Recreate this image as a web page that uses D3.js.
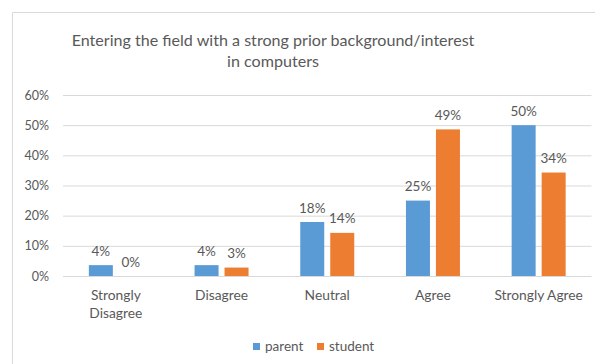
<!DOCTYPE html>
<html>
<head>
<meta charset="utf-8">
<script src="https://cdn.jsdelivr.net/npm/d3@7"></script>
<style>
  html, body { margin: 0; padding: 0; background: #fff; }
  svg { display: block; font-family: Lato, "Open Sans", sans-serif; }
</style>
</head>
<body>
<svg id="chart" width="595" height="364"></svg>
<script>
// Survey responses: share of parents and students per answer
const categories = ["Strongly Disagree", "Disagree", "Neutral", "Agree", "Strongly Agree"];
const categoryLines = [["Strongly", "Disagree"], ["Disagree"], ["Neutral"], ["Agree"], ["Strongly Agree"]];
const seriesNames = ["parent", "student"];
const parentValues = [0.036, 0.036, 0.179, 0.25, 0.50];
const studentValues = [0.0, 0.028, 0.143, 0.486, 0.343];
const yTicks = [0, 0.1, 0.2, 0.3, 0.4, 0.5, 0.6];
const titleLines = ["Entering the field with a strong prior background/interest", "in computers"];

const colors = { parent: "#5B9BD5", student: "#ED7D31" };
const textColor = "#595959";
const gridColor = "#D9D9D9";

const svg = d3.select("#chart");

// chart frame (only top and left edges fall inside the view)
svg.append("path")
  .attr("d", "M12.5,364 V12.5 H595")
  .attr("fill", "none")
  .attr("stroke", gridColor)
  .attr("stroke-width", 1);

const plot = { left: 63, right: 591.5, top: 95, bottom: 276 };

const x = d3.scaleBand()
  .domain(categories)
  .range([plot.left, plot.right])
  .paddingInner(0)
  .paddingOuter(0);

const xInner = d3.scaleBand()
  .domain(seriesNames)
  .range([0, 54])
  .paddingInner(0.2);

const y = d3.scaleLinear()
  .domain([0, 0.6])
  .range([plot.bottom, plot.top]);

// gridlines + y axis labels
const yAxis = d3.axisLeft(y)
  .tickValues(yTicks)
  .tickFormat(d3.format(".0%"))
  .tickSize(-(plot.right - plot.left))
  .tickPadding(14);

const gy = svg.append("g")
  .attr("transform", `translate(${plot.left},0)`)
  .call(yAxis);
gy.select(".domain").remove();
gy.selectAll(".tick line").attr("stroke", gridColor).attr("stroke-width", 1);
gy.selectAll(".tick text")
  .attr("fill", textColor)
  .style("font-size", "12.5px")
  .style("font-family", "Lato, sans-serif");

// bars
const series = [
  { name: "parent", values: parentValues },
  { name: "student", values: studentValues }
];

const groups = svg.append("g").selectAll("g")
  .data(categories)
  .join("g")
  .attr("transform", d => `translate(${x(d) + x.bandwidth() / 2 - 27},0)`);

groups.each(function (cat, i) {
  const g = d3.select(this);
  series.forEach(s => {
    const v = s.values[i];
    g.append("rect")
      .attr("x", xInner(s.name))
      .attr("width", xInner.bandwidth())
      .attr("y", y(v))
      .attr("height", y(0) - y(v))
      .attr("fill", colors[s.name]);
    g.append("text")
      .attr("x", xInner(s.name) + xInner.bandwidth() / 2)
      .attr("y", y(v) - 9.5)
      .attr("text-anchor", "middle")
      .attr("fill", textColor)
      .style("font-size", "13.5px")
      .text(d3.format(".0%")(v));
  });
});

// category labels
const catText = svg.append("g").selectAll("text")
  .data(categories)
  .join("text")
  .attr("x", d => x(d) + x.bandwidth() / 2)
  .attr("y", 300)
  .attr("text-anchor", "middle")
  .attr("fill", textColor)
  .style("font-size", "13.8px");
catText.each(function (d, i) {
  d3.select(this).selectAll("tspan")
    .data(categoryLines[i])
    .join("tspan")
    .attr("x", x(d) + x.bandwidth() / 2)
    .attr("dy", (t, j) => j === 0 ? 0 : 17.5)
    .text(t => t);
});

// title
svg.append("g").selectAll("text")
  .data(titleLines)
  .join("text")
  .attr("x", 273)
  .attr("y", (d, i) => 45.5 + i * 21)
  .attr("text-anchor", "middle")
  .attr("fill", textColor)
  .style("font-size", "16.1px")
  .text(d => d);

// legend
const legend = svg.append("g").attr("transform", "translate(253,343)");
const legendItems = legend.selectAll("g")
  .data(seriesNames)
  .join("g")
  .attr("transform", (d, i) => `translate(${i * 64},0)`);
legendItems.append("rect")
  .attr("width", 7)
  .attr("height", 7)
  .attr("fill", d => colors[d]);
legendItems.append("text")
  .attr("x", 12)
  .attr("y", 7.5)
  .attr("fill", textColor)
  .style("font-size", "13.5px")
  .text(d => d);
</script>
</body>
</html>
